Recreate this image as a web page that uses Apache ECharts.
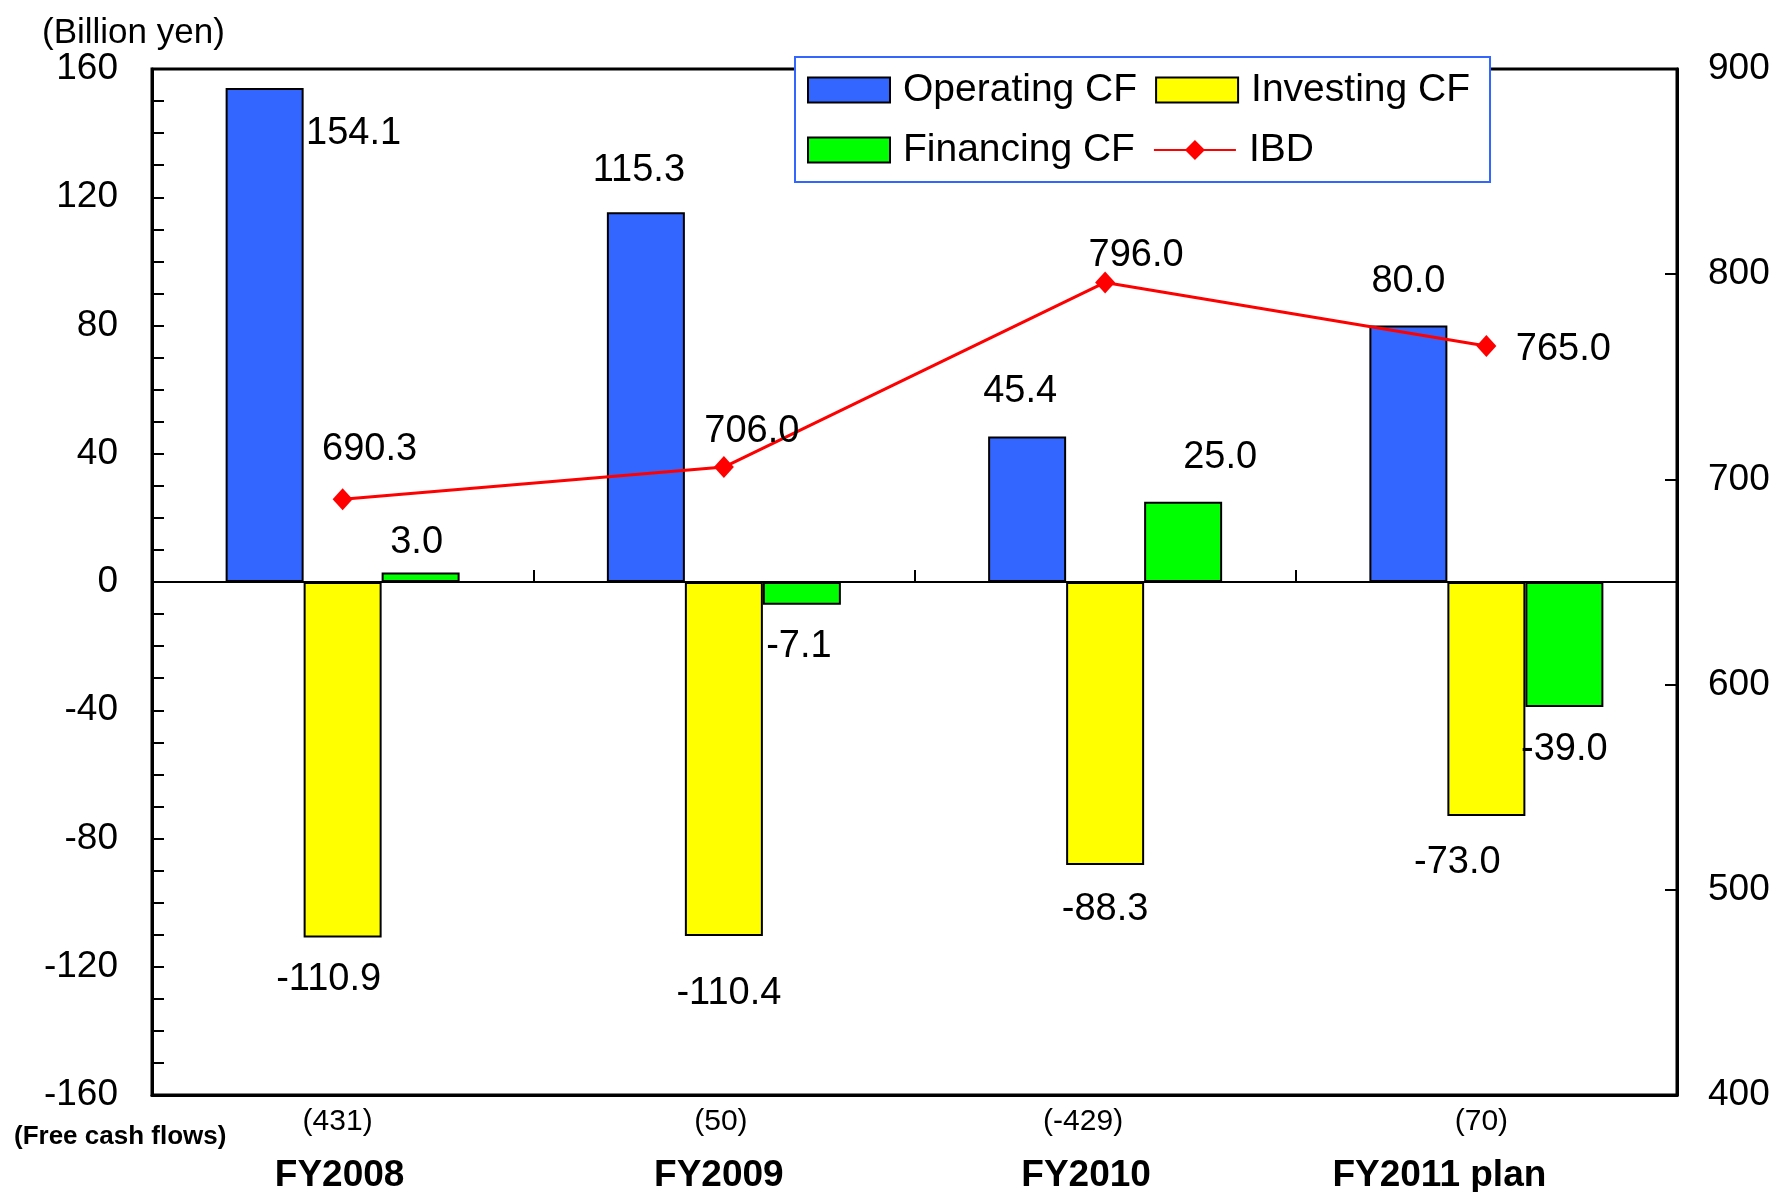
<!DOCTYPE html>
<html>
<head>
<meta charset="utf-8">
<script src="https://cdn.jsdelivr.net/npm/echarts@6/dist/echarts.min.js"></script>
<style>
    html, body { margin: 0; padding: 0; background: #fff; }
    #chart { width: 1780px; height: 1192px; }
</style>
</head>
<body>
<div id="chart"></div>
<script>
const categories = ["FY2008", "FY2009", "FY2010", "FY2011 plan"]
const freeCashFlows = [431, 50, -429, 70]
const operatingCF = [154.1, 115.3, 45.4, 80.0]
const investingCF = [-110.9, -110.4, -88.3, -73.0]
const financingCF = [3.0, -7.1, 25.0, -39.0]
const ibd = [690.3, 706.0, 796.0, 765.0]

// label nudges (px), as placed by hand in the original
const opLabelOffset = [[89, 91], [-7, 3], [-7, 0], [0, 1]]
const invLabelOffset = [[-14, -3], [5, 13], [0, -1], [-29, 1]]
const finLabelOffset = [[-4, 15], [-3, -3], [37, 1], [0, -3]]
const ibdLabelOffset = [[27, -20], [28, -6], [31, 3], [77, 33]]
// category label nudges (px, negative = left)
const fcfShift = [-5, -3, -22, -5]
const fyShift = [-3, -5, -19, -47]

const FONT = "'Liberation Sans', Arial, sans-serif"

function barData(values, offsets) {
    return values.map((v, i) => ({
        value: v,
        label: { position: v < 0 ? "bottom" : "top", offset: offsets[i] },
    }))
}

function barSeries(name, values, offsets, color) {
    return {
        name: name,
        type: "bar",
        barWidth: 78,
        barGap: "0%",
        itemStyle: { color: color, borderColor: "#000", borderWidth: 2 },
        label: {
            show: true,
            distance: 26,
            color: "#000",
            fontSize: 38,
            fontFamily: FONT,
            formatter: p => p.value.toFixed(1),
        },
        data: barData(values, offsets),
    }
}

// rich styles for the two-line category labels, one pair per category
const rich = {}
categories.forEach((c, i) => {
    rich["a" + i] = {
        fontSize: 30, lineHeight: 40, color: "#000", fontFamily: FONT,
        padding: [0, -2 * fcfShift[i], 0, 0],
    }
    rich["b" + i] = {
        fontSize: 37, lineHeight: 68, fontWeight: "bold", color: "#000", fontFamily: FONT,
        padding: [0, -2 * fyShift[i], 0, 0],
    }
})

const myChart = echarts.init(document.getElementById("chart"))
myChart.setOption({
    animation: false,
    backgroundColor: "#fff",
    textStyle: { fontFamily: FONT },
    grid: {
        left: 152,
        right: 103,
        top: 69,
        bottom: 97,
        outerBoundsMode: "none",
        show: true,
        borderColor: "#000",
        borderWidth: 3,
    },
    legend: {
        left: 795,
        top: 57,
        width: 700,
        padding: [12, 20, 11, 12],
        itemWidth: 82,
        itemHeight: 25,
        itemGap: 18,
        borderColor: "#3366FF",
        borderWidth: 2,
        backgroundColor: "#fff",
        textStyle: {
            fontSize: 39,
            lineHeight: 42,
            color: "#000",
            fontFamily: FONT,
            padding: [0, 0, 0, 8],
        },
        data: [
            { name: "Operating CF", icon: "rect" },
            { name: "Investing CF", icon: "rect" },
            { name: "Financing CF", icon: "rect" },
            { name: "IBD" },
        ],
    },
    graphic: [
        {
            type: "text",
            left: 42,
            top: 16,
            style: { text: "(Billion yen)", fontSize: 35, fontFamily: FONT, fill: "#000" },
        },
        {
            type: "text",
            left: 14,
            top: 1124,
            style: { text: "(Free cash flows)", fontSize: 26, fontWeight: "bold", fontFamily: FONT, fill: "#000" },
        },
    ],
    xAxis: [
        {
            type: "category",
            data: categories,
            position: "bottom",
            axisLine: { onZero: false, lineStyle: { color: "#000", width: 3 } },
            axisTick: { show: false },
            axisLabel: {
                margin: 7,
                formatter: (val, idx) => "{a" + idx + "|(" + freeCashFlows[idx] + ")}\n{b" + idx + "|" + val + "}",
                rich: rich,
            },
        },
        {
            type: "category",
            data: categories,
            position: "bottom",
            axisLine: { onZero: true, onZeroAxisIndex: 0, lineStyle: { color: "#000", width: 2 } },
            axisTick: { show: true, inside: true, length: 12, lineStyle: { color: "#000", width: 2 } },
            axisLabel: { show: false },
            splitLine: { show: false },
        },
    ],
    yAxis: [
        {
            type: "value",
            min: -160,
            max: 160,
            interval: 40,
            axisLine: { show: true, lineStyle: { color: "#000", width: 3 } },
            axisTick: { show: true, inside: true, length: 12, lineStyle: { color: "#000", width: 2 } },
            minorTick: { show: true, splitNumber: 4, length: 12, lineStyle: { color: "#000", width: 2 } },
            splitLine: { show: false },
            axisLabel: { fontSize: 37, color: "#000", margin: 34, fontFamily: FONT },
        },
        {
            type: "value",
            min: 400,
            max: 900,
            interval: 100,
            position: "right",
            axisLine: { show: true, lineStyle: { color: "#000", width: 3 } },
            axisTick: { show: true, inside: true, length: 12, lineStyle: { color: "#000", width: 2 } },
            splitLine: { show: false },
            axisLabel: { fontSize: 37, color: "#000", margin: 31, fontFamily: FONT },
        },
    ],
    series: [
        barSeries("Operating CF", operatingCF, opLabelOffset, "#3366FF"),
        barSeries("Investing CF", investingCF, invLabelOffset, "#FFFF00"),
        barSeries("Financing CF", financingCF, finLabelOffset, "#00FF00"),
        {
            name: "IBD",
            type: "line",
            yAxisIndex: 1,
            z: 5,
            symbol: "diamond",
            symbolSize: [20, 22],
            itemStyle: { color: "#FF0000" },
            lineStyle: { color: "#FF0000", width: 3 },
            label: {
                show: true,
                position: "top",
                distance: 0,
                color: "#000",
                fontSize: 38,
                fontFamily: FONT,
                formatter: p => p.value.toFixed(1),
            },
            data: ibd.map((v, i) => ({ value: v, label: { offset: ibdLabelOffset[i] } })),
        },
    ],
})
window.addEventListener("resize", function () {
    myChart.resize()
})
</script>
</body>
</html>
